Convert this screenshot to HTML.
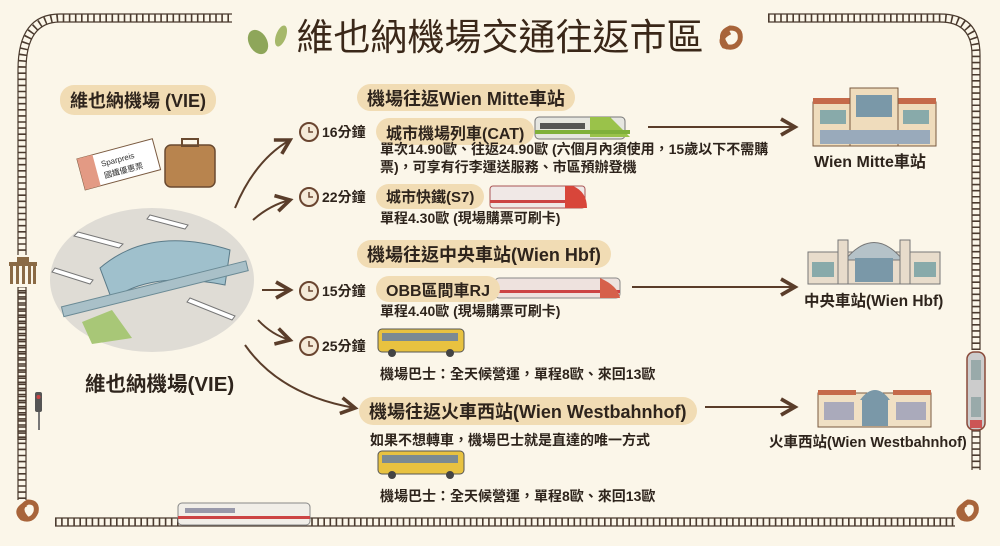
<!DOCTYPE html>
<html><head><meta charset="utf-8">
<style>
*{margin:0;padding:0;box-sizing:border-box}
body{width:1000px;height:546px;overflow:hidden;background:#fbf6e9;font-family:"Liberation Sans","Noto Sans CJK TC",sans-serif;color:#2e241c;position:relative}
.a{position:absolute;white-space:nowrap}
.pill{background:#f1dcb4;border-radius:14px;font-weight:bold;padding:0 10px;display:flex;align-items:center}
.t{font-weight:bold;font-size:14px}
.tm{font-weight:bold;font-size:14px}
svg{position:absolute;left:0;top:0}
</style></head><body>
<svg width="1000" height="546">
<defs>
<marker id="ar" markerWidth="10" markerHeight="10" refX="8" refY="5" orient="auto"><path d="M1,1 L8,5 L1,9" fill="none" stroke="#5a3d2a" stroke-width="1.8"/></marker>
</defs>
<g stroke="#4a3a2e" fill="none">
<path d="M22,440 V70 Q22,20 60,18 H232" stroke-width="8" stroke-dasharray="1.6 4.5"/>
<path d="M18,440 V70 Q18,14 60,14 H232" stroke-width="1.2"/>
<path d="M26,440 V70 Q26,22 60,22 H232" stroke-width="1.2"/>
<path d="M768,18 H940 Q976,18 976,55 V350" stroke-width="8" stroke-dasharray="1.6 4.5"/>
<path d="M768,14 H940 Q980,14 980,55 V350" stroke-width="1.2"/>
<path d="M768,22 H940 Q972,22 972,55 V350" stroke-width="1.2"/>
<path d="M976,430 V470" stroke-width="8" stroke-dasharray="1.6 4.5"/>
<path d="M980,430 V470 M972,430 V470" stroke-width="1.2"/>
<path d="M22,290 V500" stroke-width="8" stroke-dasharray="1.6 4.5"/>
<path d="M18,290 V500 M26,290 V500" stroke-width="1.2"/>
<path d="M55,522 H955" stroke-width="8" stroke-dasharray="1.6 4.5"/>
<path d="M55,518 H955 M55,526 H955" stroke-width="1.2"/>
</g>
<rect x="8" y="255" width="30" height="32" fill="#fbf6e9"/>
<g fill="#8a6a45"><rect x="9" y="262" width="28" height="4"/><rect x="10" y="266" width="3" height="18"/><rect x="16" y="266" width="3" height="18"/><rect x="22" y="266" width="3" height="18"/><rect x="28" y="266" width="3" height="18"/><rect x="33" y="266" width="3" height="18"/><rect x="17" y="257" width="12" height="5"/></g>
<rect x="35" y="392" width="7" height="20" rx="2" fill="#555"/><rect x="38" y="412" width="2" height="18" fill="#777"/><circle cx="38.5" cy="397" r="2" fill="#c44"/>
<rect x="967" y="352" width="18" height="78" rx="7" fill="#ccc" stroke="#8a4a3a" stroke-width="1.5"/><rect x="971" y="360" width="10" height="20" fill="#9aa"/><rect x="971" y="397" width="10" height="20" fill="#9aa"/><rect x="970" y="420" width="12" height="8" fill="#c55"/>
<g fill="none" stroke="#a8643a" stroke-width="5"><path d="M28,520 q-12,-12 0,-18 q10,0 8,10 q-4,10 -14,6 q-8,-8 4,-14"/><path d="M968,520 q-12,-12 0,-18 q10,0 8,10 q-4,10 -14,6 q-8,-8 4,-14"/><path d="M728,48 q-12,-14 2,-20 q12,0 10,12 q-4,10 -16,6 q-6,-8 6,-14"/></g>
<ellipse cx="258" cy="42" rx="9" ry="13" transform="rotate(-30 258 42)" fill="#8ea65a"/>
<ellipse cx="281" cy="36" rx="5" ry="11" transform="rotate(20 281 36)" fill="#a6b86a"/>
<g transform="rotate(-15 120 165)"><rect x="80" y="148" width="78" height="32" fill="#fff" stroke="#7a5a40"/><rect x="80" y="148" width="16" height="32" fill="#e39a84"/><text x="102" y="162" font-size="8" font-family="Liberation Sans" fill="#333">Sparpreis</text><text x="102" y="174" font-size="8" font-family="Noto Sans CJK TC" fill="#333">國鐵優惠票</text></g>
<rect x="165" y="145" width="50" height="42" rx="6" fill="#b8844e" stroke="#6a4a30" stroke-width="1.5"/><rect x="182" y="139" width="16" height="7" fill="none" stroke="#6a4a30" stroke-width="2"/>
<ellipse cx="152" cy="280" rx="102" ry="72" fill="#dfdcd5"/>
<path d="M100,268 Q150,225 230,250 L225,285 Q150,270 112,300 Z" fill="#9fc0cc" stroke="#5a7a88"/>
<rect x="60" y="285" width="190" height="10" transform="rotate(-14 150 290)" fill="#a9c0c8" stroke="#6a8a95"/>
<path d="M82,322 l30,-12 l20,28 l-40,6 z" fill="#a8c777"/>
<g fill="#fff" stroke="#777"><path d="M78,232 l45,12 l-4,4 l-45,-12z"/><path d="M150,215 l38,10 l-3,4 l-38,-10z"/><path d="M55,268 l38,12 l-3,4 l-38,-12z"/><path d="M190,298 l45,18 l-3,4 l-45,-18z"/></g>
<g fill="none" stroke="#5a3d2a" stroke-width="2" marker-end="url(#ar)">
<path d="M235,208 Q255,160 290,140"/>
<path d="M253,220 Q270,205 290,200"/>
<path d="M262,290 L290,290"/>
<path d="M258,320 Q272,335 290,340"/>
<path d="M245,345 Q280,395 355,408"/>
<path d="M648,127 H795"/>
<path d="M632,287 H795"/>
<path d="M705,407 H795"/>
</g>
<g fill="#f5ead8" stroke="#6a4530" stroke-width="2">
<circle cx="309" cy="132" r="9"/><circle cx="309" cy="197" r="9"/><circle cx="309" cy="291" r="9"/><circle cx="309" cy="346" r="9"/>
</g>
<g stroke="#6a4530" stroke-width="1.5" fill="none"><path d="M309,127 v5 h4 M309,192 v5 h4 M309,286 v5 h4 M309,341 v5 h4"/></g>
<rect x="535" y="117" width="90" height="22" rx="4" fill="#e6e6e0" stroke="#777"/><path d="M590,117 h20 l20,20 h-40z" fill="#9ac24a"/><rect x="540" y="123" width="45" height="6" fill="#555"/><rect x="535" y="130" width="95" height="4" fill="#7fb03a"/>
<rect x="490" y="186" width="95" height="22" rx="3" fill="#f0e8e6" stroke="#a55"/><rect x="490" y="200" width="95" height="3" fill="#c44"/><path d="M565,186 h8 q14,6 14,22 h-22z" fill="#d8463a"/>
<rect x="495" y="278" width="125" height="20" rx="4" fill="#eee2de" stroke="#888"/><rect x="495" y="290" width="125" height="3" fill="#c44"/><path d="M600,278 q18,8 20,20 h-20z" fill="#d6604a"/>
<rect x="178" y="503" width="132" height="22" rx="4" fill="#f1eee8" stroke="#888"/><rect x="178" y="516" width="132" height="3" fill="#c44"/><rect x="185" y="508" width="50" height="5" fill="#99a"/>
<g><rect x="378" y="329" width="86" height="23" rx="4" fill="#e8c240" stroke="#555"/><rect x="382" y="333" width="76" height="8" fill="#7b8a92"/><circle cx="392" cy="353" r="4" fill="#444"/><circle cx="450" cy="353" r="4" fill="#444"/></g>
<g><rect x="378" y="451" width="86" height="23" rx="4" fill="#e8c240" stroke="#555"/><rect x="382" y="455" width="76" height="8" fill="#7b8a92"/><circle cx="392" cy="475" r="4" fill="#444"/><circle cx="450" cy="475" r="4" fill="#444"/></g>
<rect x="813" y="102" width="123" height="44" fill="#efdcbc" stroke="#7a5a40"/><rect x="813" y="98" width="38" height="6" fill="#c56a4a"/><rect x="898" y="98" width="38" height="6" fill="#c56a4a"/><rect x="850" y="88" width="48" height="58" fill="#efdcbc" stroke="#7a5a40"/><rect x="856" y="95" width="36" height="22" fill="#7a98a8"/><rect x="820" y="110" width="26" height="14" fill="#8aa"/><rect x="903" y="110" width="26" height="14" fill="#8aa"/><rect x="820" y="130" width="110" height="14" fill="#9ab"/>
<rect x="808" y="252" width="132" height="32" fill="#e8dccb" stroke="#777"/><path d="M845,260 Q874,225 903,260 Z" fill="#b5c2c8" stroke="#777"/><rect x="838" y="240" width="10" height="44" fill="#e8dccb" stroke="#777"/><rect x="900" y="240" width="10" height="44" fill="#e8dccb" stroke="#777"/><rect x="855" y="258" width="38" height="24" fill="#7a98a8"/><rect x="812" y="262" width="22" height="15" fill="#8aa"/><rect x="914" y="262" width="22" height="15" fill="#8aa"/>
<rect x="818" y="393" width="113" height="34" fill="#f0e0c4" stroke="#7a5a40"/><rect x="818" y="390" width="38" height="5" fill="#c56a4a"/><rect x="893" y="390" width="38" height="5" fill="#c56a4a"/><path d="M860,400 Q875,380 890,400Z" fill="#7a98a8"/><rect x="862" y="400" width="26" height="26" fill="#7a98a8"/><rect x="824" y="402" width="30" height="18" fill="#aab"/><rect x="896" y="402" width="30" height="18" fill="#aab"/>
</svg>

<div class="a" style="left:0;width:1000px;top:14px;text-align:center;font-size:37px;line-height:48px;color:#3a2718">維也納機場交通往返市區</div>

<div class="a pill" style="left:60px;top:85px;height:30px;font-size:18px">維也納機場 (VIE)</div>
<div class="a" style="left:85px;top:367px;font-size:20.5px;font-weight:bold">維也納機場(VIE)</div>

<div class="a pill" style="left:357px;top:84px;height:27px;font-size:18px">機場往返Wien Mitte車站</div>
<div class="a tm" style="left:322px;top:122px">16分鐘</div>
<div class="a pill" style="left:376px;top:118px;height:27px;font-size:16px">城市機場列車(CAT)</div>
<div class="a t" style="left:380px;top:140px;line-height:18px">單次14.90歐、往返24.90歐 (六個月內須使用，15歲以下不需購<br>票)，可享有行李運送服務、市區預辦登機</div>
<div class="a tm" style="left:322px;top:187px">22分鐘</div>
<div class="a pill" style="left:376px;top:184px;height:25px;font-size:15px">城市快鐵(S7)</div>
<div class="a t" style="left:380px;top:208px">單程4.30歐 (現場購票可刷卡)</div>

<div class="a pill" style="left:357px;top:240px;height:28px;font-size:18px">機場往返中央車站(Wien Hbf)</div>
<div class="a tm" style="left:322px;top:281px">15分鐘</div>
<div class="a pill" style="left:376px;top:276px;height:26px;font-size:16px">OBB區間車RJ</div>
<div class="a t" style="left:380px;top:301px">單程4.40歐 (現場購票可刷卡)</div>
<div class="a tm" style="left:322px;top:336px">25分鐘</div>
<div class="a t" style="left:380px;top:364px">機場巴士：全天候營運，單程8歐、來回13歐</div>

<div class="a pill" style="left:359px;top:397px;height:28px;font-size:18px">機場往返火車西站(Wien Westbahnhof)</div>
<div class="a t" style="left:370px;top:430px">如果不想轉車，機場巴士就是直達的唯一方式</div>
<div class="a t" style="left:380px;top:486px">機場巴士：全天候營運，單程8歐、來回13歐</div>

<div class="a" style="left:814px;top:148px;font-size:16px;font-weight:bold">Wien Mitte車站</div>
<div class="a" style="left:804px;top:289px;font-size:15.5px;font-weight:bold">中央車站(Wien Hbf)</div>
<div class="a" style="left:769px;top:431px;font-size:14.5px;font-weight:bold">火車西站(Wien Westbahnhof)</div>
</body></html>
